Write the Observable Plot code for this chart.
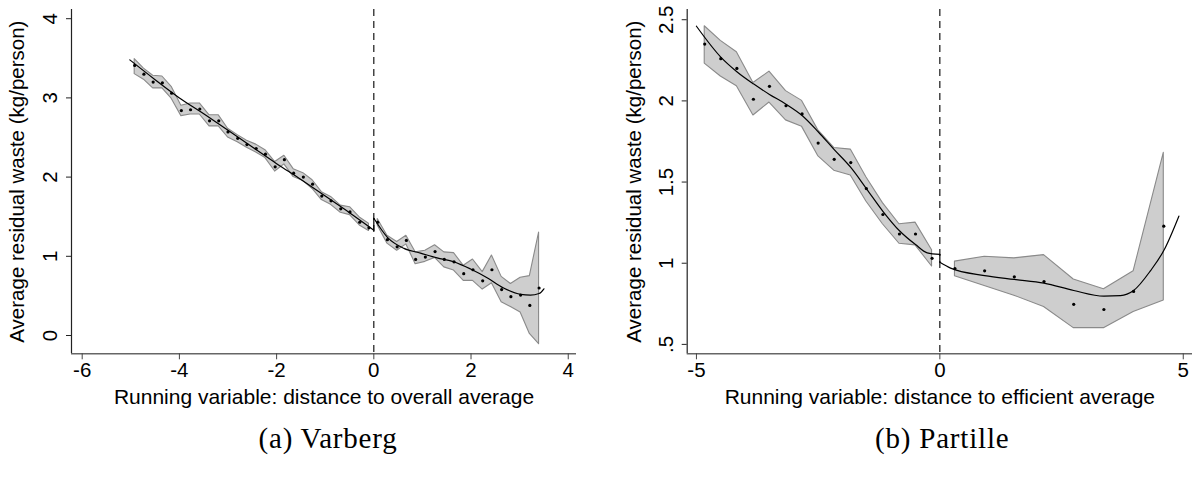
<!DOCTYPE html>
<html>
<head>
<meta charset="utf-8">
<script src="https://cdn.jsdelivr.net/npm/d3@7"></script>
<script src="https://cdn.jsdelivr.net/npm/@observablehq/plot@0.6"></script>
<style>
  html, body { margin: 0; padding: 0; background: #fff; }
  #wrap { display: flex; width: 1194px; height: 477px; overflow: hidden; }
  .panel { width: 597px; position: relative; }
  .caption { font-family: "Liberation Serif", "Times New Roman", serif; font-size: 29px; letter-spacing: 0.8px; color: #000; position: absolute; top: 424px; text-align: center; white-space: nowrap; line-height: 1; }
</style>
</head>
<body>
<div id="wrap">
  <div class="panel" id="pa"><div class="caption" id="capa">(a) Varberg</div></div>
  <div class="panel" id="pb"><div class="caption" id="capb">(b) Partille</div></div>
</div>
<script>
// ---------- Panel (a) Varberg ----------
const varbergBinLeftX  = [-4.92,-4.73,-4.54,-4.35,-4.16,-3.96,-3.77,-3.58,-3.38,-3.19,-3.00,-2.80,-2.61,-2.42,-2.23,-2.03,-1.84,-1.65,-1.45,-1.26,-1.07,-0.88,-0.68,-0.49,-0.29,-0.10];
const varbergBinLeftY  = [3.41,3.30,3.20,3.19,3.06,2.84,2.85,2.86,2.71,2.71,2.57,2.49,2.41,2.36,2.29,2.13,2.22,2.05,2.00,1.91,1.76,1.70,1.60,1.56,1.43,1.36];
const varbergBinLeftLo = [3.30,3.23,3.12,3.12,2.99,2.77,2.79,2.79,2.64,2.64,2.50,2.44,2.37,2.31,2.24,2.07,2.16,2.00,1.95,1.85,1.71,1.65,1.55,1.52,1.39,1.32];
const varbergBinLeftHi = [3.49,3.37,3.28,3.27,3.14,2.90,2.93,2.93,2.78,2.78,2.61,2.53,2.46,2.41,2.34,2.19,2.27,2.10,2.05,1.96,1.81,1.75,1.64,1.62,1.49,1.41];

const varbergBinRightX  = [0.08,0.28,0.48,0.67,0.86,1.06,1.26,1.45,1.65,1.85,2.04,2.24,2.43,2.63,2.82,3.02,3.21,3.40];
const varbergBinRightY  = [1.43,1.21,1.12,1.20,0.96,0.99,1.06,0.96,0.93,0.78,0.83,0.69,0.83,0.58,0.49,0.51,0.38,0.60];
const varbergBinRightLo = [1.39,1.16,1.07,1.15,0.90,0.93,0.98,0.86,0.82,0.69,0.69,0.58,0.66,0.42,0.36,0.29,0.02,-0.11];
const varbergBinRightHi = [1.47,1.26,1.18,1.26,1.05,1.07,1.14,1.05,1.04,0.88,0.96,0.80,1.01,0.74,0.65,0.73,0.75,1.30];

const varbergFitLeftX  = [-5.02,-4.5,-4.0,-3.5,-3.0,-2.5,-2.0,-1.5,-1.0,-0.5,0];
const varbergFitLeftY  = [3.48,3.23,3.00,2.80,2.59,2.38,2.17,1.97,1.76,1.55,1.33];
const varbergFitRightX = [0,0.28,0.62,0.96,1.30,1.65,1.99,2.33,2.67,3.02,3.22,3.40,3.50];
const varbergFitRightY = [1.48,1.24,1.10,1.04,0.98,0.93,0.84,0.73,0.60,0.52,0.51,0.53,0.59];

const varbergXTicks = [-6,-4,-2,0,2,4];
const varbergXTickLabels = ["-6","-4","-2","0","2","4"];
const varbergYTicks = [0,1,2,3,4];
const varbergYTickLabels = ["0","1","2","3","4"];
const varbergXDomain = [-6.22, 4.17];
const varbergYDomain = [-0.231, 4.116];
const varbergXTitle = "Running variable: distance to overall average";

// ---------- Panel (b) Partille ----------
const partilleBinLeftX  = [-4.83,-4.50,-4.17,-3.83,-3.50,-3.16,-2.83,-2.50,-2.17,-1.83,-1.51,-1.17,-0.83,-0.50,-0.16];
const partilleBinLeftY  = [2.35,2.26,2.20,2.01,2.09,1.97,1.92,1.74,1.64,1.62,1.46,1.30,1.18,1.18,1.03];
const partilleBinLeftLo = [2.23,2.15,2.09,1.91,1.99,1.88,1.84,1.66,1.57,1.54,1.38,1.24,1.12,1.11,0.98];
const partilleBinLeftHi = [2.46,2.37,2.30,2.11,2.18,2.06,2.00,1.82,1.71,1.70,1.53,1.37,1.24,1.25,1.08];

const partilleBinRightX  = [0.31,0.92,1.53,2.14,2.75,3.37,3.98,4.60];
const partilleBinRightY  = [0.967,0.953,0.916,0.887,0.747,0.715,0.826,1.228];
const partilleBinRightLo = [0.92,0.86,0.80,0.73,0.60,0.60,0.70,0.77];
const partilleBinRightHi = [1.01,1.04,1.03,1.05,0.90,0.84,0.95,1.68];

const partilleFitLeftX  = [-5.0,-4.5,-4.17,-3.83,-3.5,-3.16,-2.83,-2.5,-2.17,-1.83,-1.51,-1.17,-0.83,-0.5,-0.26,0];
const partilleFitLeftY  = [2.46,2.27,2.18,2.105,2.04,1.98,1.91,1.81,1.70,1.59,1.46,1.32,1.20,1.115,1.064,1.054];
const partilleFitRightX = [0,0.22,0.92,1.53,2.14,2.75,3.37,3.71,3.98,4.33,4.60,4.91];
const partilleFitRightY = [1.006,0.97,0.924,0.90,0.877,0.832,0.797,0.80,0.832,0.955,1.078,1.29];

const partilleXTicks = [-5,0,5];
const partilleXTickLabels = ["-5","0","5"];
const partilleYTicks = [0.5,1,1.5,2,2.5];
const partilleYTickLabels = [".5","1","1.5","2","2.5"];
const partilleXDomain = [-5.19, 5.19];
const partilleYDomain = [0.442, 2.563];
const partilleXTitle = "Running variable: distance to efficient average";

const yTitle = "Average residual waste (kg/person)";
const FONT = "'Liberation Sans', Arial, Helvetica, sans-serif";

function rows(xs, ys, lo, hi) {
  return xs.map((x, i) => ({x, y: ys[i], lo: lo ? lo[i] : undefined, hi: hi ? hi[i] : undefined}));
}

function panel(cfg) {
  const binsL = rows(cfg.bLX, cfg.bLY, cfg.bLLo, cfg.bLHi);
  const binsR = rows(cfg.bRX, cfg.bRY, cfg.bRLo, cfg.bRHi);
  const fitL = rows(cfg.fLX, cfg.fLY);
  const fitR = rows(cfg.fRX, cfg.fRY);
  const jump = [{x: 0, y: fitL[fitL.length - 1].y}, {x: 0, y: fitR[0].y}];
  const ticksY = cfg.yTicks.map((v, i) => ({v, label: cfg.yLabels[i]}));
  const xfmt = new Map(cfg.xTicks.map((v, i) => [v, cfg.xLabels[i]]));
  return Plot.plot({
    width: 597,
    height: 415,
    marginLeft: cfg.ml,
    marginRight: cfg.mr,
    marginTop: 9,
    marginBottom: 61.7,
    style: {fontFamily: FONT, background: "#fff", color: "#000"},
    x: {domain: cfg.xDomain},
    y: {domain: cfg.yDomain},
    marks: [
      Plot.areaY(binsL, {x: "x", y1: "lo", y2: "hi", fill: "#cecece", stroke: "#8a8a8a", strokeWidth: 1.1}),
      Plot.areaY(binsR, {x: "x", y1: "lo", y2: "hi", fill: "#cecece", stroke: "#8a8a8a", strokeWidth: 1.1}),
      Plot.ruleX([0], {stroke: "#000", strokeWidth: 1.1, strokeDasharray: "7,5"}),
      Plot.line(fitL, {x: "x", y: "y", stroke: "#000", strokeWidth: 1.2, curve: "monotone-x"}),
      Plot.line(fitR, {x: "x", y: "y", stroke: "#000", strokeWidth: 1.2, curve: "monotone-x"}),
      Plot.line(jump, {x: "x", y: "y", stroke: "#000", strokeWidth: 1.2}),
      Plot.dot(binsL, {x: "x", y: "y", r: 1.6, fill: "#000", stroke: "none"}),
      Plot.dot(binsR, {x: "x", y: "y", r: 1.6, fill: "#000", stroke: "none"}),
      // axis lines
      Plot.ruleX([cfg.xDomain[0]], {stroke: "#222", strokeWidth: 1.2}),
      Plot.ruleY([cfg.yDomain[0]], {stroke: "#666", strokeWidth: 1.6}),
      // x axis ticks + labels
      Plot.axisX({ticks: cfg.xTicks, tickSize: 6, tickPadding: 3, fontSize: 20.5, label: null, stroke: "#444", tickFormat: d => xfmt.get(d)}),
      // y axis ticks
      Plot.axisY({ticks: cfg.yTicks, tickSize: 5, tickFormat: () => "", label: null, stroke: "#222"}),
      Plot.text(ticksY, {y: "v", text: "label", frameAnchor: "left", dx: -21, rotate: -90, lineAnchor: "middle", textAnchor: "middle", fontSize: 20.5, fill: "#000"}),
      Plot.text([yTitle], {text: d => d, frameAnchor: "left", dx: cfg.ytdx, rotate: -90, lineAnchor: "middle", textAnchor: "middle", fontSize: 20.5, fill: "#000"}),
      Plot.text([cfg.xTitle], {text: d => d, frameAnchor: "bottom", dy: 43, lineAnchor: "middle", textAnchor: "middle", fontSize: 21, fill: "#000"})
    ]
  });
}

const a = panel({
  bLX: varbergBinLeftX, bLY: varbergBinLeftY, bLLo: varbergBinLeftLo, bLHi: varbergBinLeftHi,
  bRX: varbergBinRightX, bRY: varbergBinRightY, bRLo: varbergBinRightLo, bRHi: varbergBinRightHi,
  fLX: varbergFitLeftX, fLY: varbergFitLeftY, fRX: varbergFitRightX, fRY: varbergFitRightY,
  xTicks: varbergXTicks, xLabels: varbergXTickLabels, yTicks: varbergYTicks, yLabels: varbergYTickLabels,
  xDomain: varbergXDomain, yDomain: varbergYDomain, xTitle: varbergXTitle,
  ml: 71, mr: 21, ytdx: -54
});
const b = panel({
  bLX: partilleBinLeftX, bLY: partilleBinLeftY, bLLo: partilleBinLeftLo, bLHi: partilleBinLeftHi,
  bRX: partilleBinRightX, bRY: partilleBinRightY, bRLo: partilleBinRightLo, bRHi: partilleBinRightHi,
  fLX: partilleFitLeftX, fLY: partilleFitLeftY, fRX: partilleFitRightX, fRY: partilleFitRightY,
  xTicks: partilleXTicks, xLabels: partilleXTickLabels, yTicks: partilleYTicks, yLabels: partilleYTickLabels,
  xDomain: partilleXDomain, yDomain: partilleYDomain, xTitle: partilleXTitle,
  ml: 89.7, mr: 2, ytdx: -53
});
const pa = document.getElementById("pa");
const pb = document.getElementById("pb");
pa.insertBefore(a, pa.firstChild);
pb.insertBefore(b, pb.firstChild);

// center captions under each axis
function placeCaption(id, center) {
  const el = document.getElementById(id);
  el.style.left = (center - el.offsetWidth / 2) + "px";
}
placeCaption("capa", 328);
placeCaption("capb", 345);
</script>
</body>
</html>
